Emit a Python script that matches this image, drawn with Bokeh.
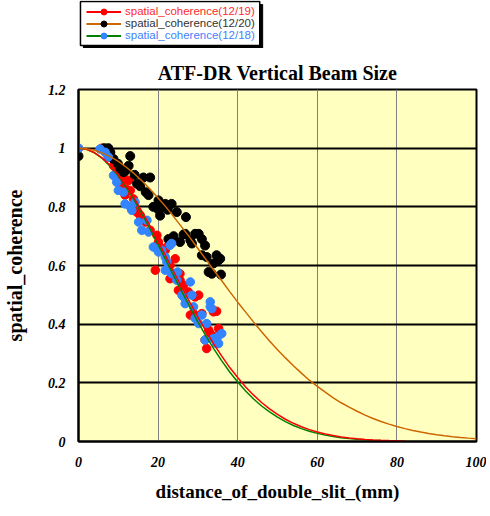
from bokeh.plotting import figure
from bokeh.layouts import column
from bokeh.models import (Range1d, FixedTicker, Legend, LegendItem)
from bokeh.embed import file_html
from bokeh.resources import INLINE

# ---- data ----
red_x = [0, 5.9, 7.5, 8.0, 8.8, 9.6, 10, 11.3, 10.5, 12.6, 11.7, 13, 13.8, 13.4, 14.6, 13.4,
         15.5, 16.8, 18, 19.7, 20.1, 19.3, 20.5, 21.8, 22.6, 24.3, 19.3, 23, 23.9, 25.5, 23,
         25.5, 25.1, 26.4, 27.6, 29.3, 30.2, 28.1, 28.9, 31, 33.9, 34.7, 32.7, 35.2, 33.1,
         34.3, 31.8, 32.2, 11.3, 12]
red_y = [1.0, 1.0, 0.97, 0.986, 0.94, 0.92, 0.89, 0.907, 0.873, 0.89, 0.84, 0.856, 0.827, 0.80,
         0.782, 0.793, 0.771, 0.748, 0.72, 0.703, 0.68, 0.663, 0.663, 0.652, 0.669, 0.623,
         0.584, 0.60, 0.572, 0.572, 0.555, 0.55, 0.516, 0.533, 0.51, 0.493, 0.499, 0.431,
         0.436, 0.436, 0.442, 0.444, 0.38, 0.385, 0.368, 0.357, 0.346, 0.317, 0.89, 0.86]

black_x = [0, 6.5, 7.5, 8.0, 8.8, 9.9, 13, 12.6, 10.5, 11.3, 14.1, 14.7, 16.3, 18, 16.9, 17.6,
           20.1, 21.8, 23.4, 18.8, 20.1, 21.4, 22.6, 20.5, 22.4, 24.7, 27, 23.9, 22.6, 25.5,
           26.4, 26.8, 29.3, 30.2, 28.1, 28.5, 31, 31.8, 31, 32.2, 34.7, 35.2, 33.9, 35.6,
           32.7, 33.5, 35.8, 12, 15.5]
black_y = [0.973, 1.0, 1.0, 0.986, 0.963, 0.947, 0.973, 0.94, 0.93, 0.918, 0.909, 0.879, 0.90,
           0.90, 0.85, 0.84, 0.822, 0.81, 0.81, 0.80, 0.79, 0.80, 0.805, 0.77, 0.79, 0.782,
           0.765, 0.70, 0.69, 0.68, 0.706, 0.708, 0.708, 0.708, 0.686, 0.675, 0.69, 0.668,
           0.635, 0.629, 0.635, 0.618, 0.607, 0.623, 0.578, 0.572, 0.569, 0.925, 0.87]

blue_x = [0, 5.4, 6.7, 7.5, 8.8, 9.6, 10, 11.3, 11.7, 13, 14.2, 13.4, 15.1, 17.2, 15.9, 17.6,
          18.8, 19.7, 20.9, 23.4, 21.8, 20.1, 23, 22.2, 21.8, 23.4, 24.9, 24.7, 28.1, 26,
          26.8, 28.5, 28.9, 33.1, 33.1, 31, 29.3, 30.2, 32.2, 31.8, 33.9, 35, 36, 35.2, 33.5,
          34.7, 26.4]
blue_y = [1.0, 0.997, 0.986, 0.97, 0.907, 0.884, 0.856, 0.85, 0.81, 0.80, 0.816, 0.788, 0.748,
          0.754, 0.72, 0.714, 0.663, 0.657, 0.652, 0.675, 0.629, 0.646, 0.669, 0.612, 0.584,
          0.572, 0.578, 0.55, 0.544, 0.499, 0.47, 0.499, 0.459, 0.476, 0.459, 0.431, 0.42,
          0.402, 0.402, 0.346, 0.351, 0.357, 0.368, 0.334, 0.453, 0.334, 0.493]

fit_red_x = [0, 2, 4, 6, 8, 10, 12, 14, 16, 18, 20, 22, 24, 26, 28, 30, 32, 34, 36, 38, 40,
             42, 44, 46, 48, 50, 52, 54, 56, 58, 60, 62, 64, 66, 68, 70, 72, 74, 76, 78, 80, 82]
fit_red_y = [1.0, 0.996, 0.985, 0.966, 0.941, 0.909, 0.872, 0.830, 0.783, 0.734, 0.683, 0.630,
             0.577, 0.525, 0.474, 0.424, 0.377, 0.332, 0.291, 0.252, 0.218, 0.186, 0.158,
             0.133, 0.111, 0.0922, 0.0759, 0.0620, 0.0503, 0.0405, 0.0323, 0.0256, 0.0201,
             0.0157, 0.0122, 0.0094, 0.0071, 0.0054, 0.0041, 0.0030, 0.0022, 0.0016]

fit_green_x = [0, 2, 4, 6, 8, 10, 12, 14, 16, 18, 20, 22, 24, 26, 28, 30, 32, 34, 36, 38, 40,
               42, 44, 46, 48, 50, 52, 54, 56, 58, 60, 62, 64, 66, 68, 70, 72, 74, 76, 78, 80]
fit_green_y = [1.0, 0.996, 0.984, 0.965, 0.938, 0.905, 0.866, 0.823, 0.775, 0.724, 0.671,
               0.617, 0.563, 0.510, 0.458, 0.408, 0.360, 0.316, 0.275, 0.237, 0.203, 0.172,
               0.145, 0.121, 0.101, 0.0828, 0.0676, 0.0547, 0.0439, 0.0350, 0.0277, 0.0217,
               0.0169, 0.0130, 0.0100, 0.0076, 0.0057, 0.0043, 0.0032, 0.0023, 0.0017]

fit_orange_x = [0, 2, 4, 6, 8, 10, 12, 14, 16, 18, 20, 22, 24, 26, 28, 30, 32, 34, 36, 38, 40,
                42, 44, 46, 48, 50, 52, 54, 56, 58, 60, 62, 64, 66, 68, 70, 72, 74, 76, 78, 80,
                82, 84, 86, 88, 90, 92, 94, 96, 98, 100]
fit_orange_y = [1.0, 0.998, 0.993, 0.983, 0.971, 0.955, 0.935, 0.913, 0.888, 0.860, 0.830,
                0.799, 0.765, 0.730, 0.695, 0.658, 0.621, 0.584, 0.548, 0.511, 0.475, 0.441,
                0.407, 0.374, 0.343, 0.313, 0.285, 0.258, 0.233, 0.209, 0.188, 0.168, 0.149,
                0.132, 0.117, 0.103, 0.0899, 0.0785, 0.0683, 0.0592, 0.0511, 0.0439, 0.0377,
                0.0322, 0.0273, 0.0232, 0.0196, 0.0165, 0.0138, 0.0115, 0.0096]

series_labels = ["spatial_coherence(12/19)", "spatial_coherence(12/20)", "spatial_coherence(12/18)"]

x_ticks = [0, 20, 40, 60, 80, 100]
x_tick_labels = ["0", "20", "40", "60", "80", "100"]
y_ticks = [0, 0.2, 0.4, 0.6, 0.8, 1.0, 1.2]
y_tick_labels = ["0", "0.2", "0.4", "0.6", "0.8", "1", "1.2"]

RED, BLACK, BLUE = "#FF0000", "#000000", "#3385FF"
RED_LINE, ORANGE_LINE, GREEN_LINE = "#FF0000", "#CC6600", "#008000"

# ---- main figure ----
p = figure(frame_width=398, frame_height=352,
           x_range=Range1d(0, 100), y_range=Range1d(0, 1.2),
           output_backend="svg", toolbar_location=None,
           min_border_left=72, min_border_right=10, min_border_top=41, min_border_bottom=0,
           background_fill_color="#FFFFC0", border_fill_color="white",
           title="ATF-DR Vertical Beam Size")

p.title.align = "center"
p.title.text_font = "Liberation Serif"
p.title.text_font_size = "20px"
p.title.text_font_style = "bold"
p.title.text_color = "black"
p.title.standoff = 12

p.outline_line_color = "black"
p.outline_line_width = 2
p.outline_line_alpha = 1

for ax, ticks, labels in ((p.xaxis[0], x_ticks, x_tick_labels), (p.yaxis[0], y_ticks, y_tick_labels)):
    ax.ticker = FixedTicker(ticks=ticks)
    ax.major_label_overrides = dict(zip(ticks, labels))
    ax.major_label_text_font = "Liberation Serif"
    ax.major_label_text_font_style = "bold italic"
    ax.major_label_text_font_size = "14px"
    ax.major_label_text_color = "black"
    ax.major_tick_line_color = None
    ax.minor_tick_line_color = None
    ax.axis_line_color = "black"
    ax.axis_line_width = 2
    ax.axis_label_text_font = "Liberation Serif"
    ax.axis_label_text_font_style = "bold"
    ax.axis_label_text_color = "black"

p.xaxis.axis_label = "distance_of_double_slit_(mm)"
p.yaxis.axis_label = "spatial_coherence"
p.xaxis.axis_label_text_font_size = "19px"
p.yaxis.axis_label_text_font_size = "20px"
p.xaxis.major_label_standoff = 9
p.xaxis.axis_label_standoff = 11
p.yaxis.major_label_standoff = 7
p.yaxis.axis_label_standoff = 19

p.xgrid.ticker = FixedTicker(ticks=x_ticks)
p.ygrid.ticker = FixedTicker(ticks=y_ticks)
p.xgrid.grid_line_color = "#808080"
p.xgrid.grid_line_width = 1
p.ygrid.grid_line_color = "black"
p.ygrid.grid_line_width = 2

p.scatter(red_x, red_y, size=8.5, fill_color=RED, line_color=RED)
p.scatter(black_x, black_y, size=9, fill_color=BLACK, line_color=BLACK)
p.scatter(blue_x, blue_y, size=8.5, fill_color=BLUE, line_color=BLUE)

p.line(fit_green_x, fit_green_y, line_color=GREEN_LINE, line_width=1.5)
p.line(fit_red_x, fit_red_y, line_color=RED_LINE, line_width=1.5)
p.line(fit_orange_x, fit_orange_y, line_color=ORANGE_LINE, line_width=1.5)

# ---- legend strip above the chart (its frame aligns with the chart frame) ----
lf = figure(width=480, height=48, output_backend="svg", toolbar_location=None,
            x_axis_location=None, y_axis_location=None,
            min_border_left=72, min_border_right=10, min_border_top=0, min_border_bottom=0,
            background_fill_color="white", border_fill_color="white",
            outline_line_color=None, x_range=Range1d(0, 1), y_range=Range1d(0, 1))
lf.xgrid.visible = False
lf.ygrid.visible = False

# legend frame (fractions of the strip's frame) with a drop shadow
lf.quad(left=[0.0126], right=[0.4698], bottom=[0.0], top=[0.9167],
        fill_color="black", line_color="black")
lf.quad(left=[0.005], right=[0.4623], bottom=[0.0625], top=[0.979],
        fill_color="white", line_color="black", line_width=1.5)

legend_rows = [
    (series_labels[0], RED_LINE, RED, "#FF2A2A", 29.5),
    (series_labels[1], ORANGE_LINE, BLACK, "#333333", 17.5),
    (series_labels[2], GREEN_LINE, BLUE, "#3F7FFF", 5.5),
]
for label, lcol, mcol, tcol, ybot in legend_rows:
    lr = lf.line([-10, -9], [-10, -9], line_color=lcol, line_width=2)
    sr = lf.scatter([-10], [-10], size=8, fill_color=mcol, line_color=mcol)
    lg = Legend(items=[LegendItem(label=label, renderers=[lr, sr])],
                location=(8, ybot), orientation="vertical",
                glyph_width=35, glyph_height=15, label_height=12,
                label_standoff=4, padding=0, margin=0, spacing=0,
                label_text_font="Liberation Sans", label_text_font_size="11.5px",
                label_text_color=tcol, border_line_alpha=0, background_fill_alpha=0)
    lf.add_layout(lg)

layout = column(lf, p, spacing=0)
open("out.html", "w").write(file_html(layout, INLINE))
